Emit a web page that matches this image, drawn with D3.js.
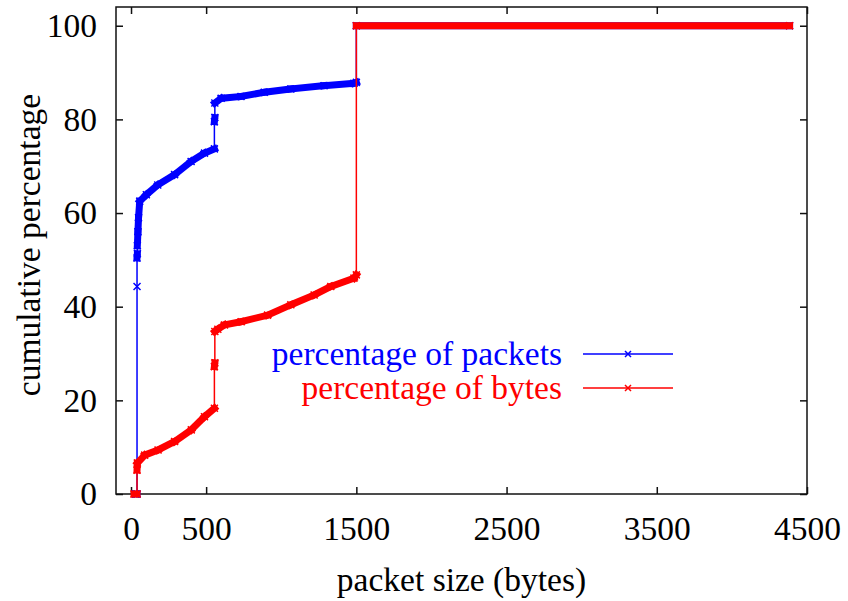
<!DOCTYPE html>
<html>
<head>
<meta charset="utf-8">
<script src="https://cdn.jsdelivr.net/npm/d3@7"></script>
<style>
    body { margin: 0; background: #fff; }
    text { font-family: "Liberation Serif", "DejaVu Serif", serif; }
</style>
</head>
<body>
<div id="chart"></div>
<script>
// Data
// packet sizes (bytes) and cumulative percentage of packets
var packetSizes = [30, 40, 40, 40, 42, 42, 46, 50, 58, 102, 178, 290, 400, 489, 555, 555, 558, 558, 600, 732, 887, 1064, 1285, 1484, 1500, 1500, 4384];
var packetPct = [0, 0, 44.3, 50.4, 51.3, 53, 56, 59, 62.5, 63.9, 66, 68.2, 71, 72.8, 73.7, 79.5, 80.4, 83.5, 84.5, 84.9, 85.8, 86.5, 87.2, 87.7, 87.9, 100, 100];

// packet sizes (bytes) and cumulative percentage of bytes
var byteSizes = [20, 40, 40, 42, 91, 180, 290, 401, 489, 555, 555, 558, 558, 578, 622, 733, 909, 1064, 1219, 1330, 1484, 1500, 1500, 4384];
var bytePct = [0, 0, 5.1, 6.6, 8.3, 9.4, 11.2, 13.7, 16.5, 18.3, 27.2, 28.0, 34.7, 35.2, 36.1, 36.8, 38.2, 40.4, 42.5, 44.3, 46.1, 46.8, 100, 100];

var xTicks = [0, 500, 1500, 2500, 3500, 4500];
var yTicks = [0, 20, 40, 60, 80, 100];

var seriesNames = ['percentage of packets', 'percentage of bytes'];
var seriesColors = ['#0000ff', '#ff0000'];

// SVG setup
var svgWidth = 848;
var svgHeight = 601;
var fontSize = '33.5px';

var margins = {
    top: 7,
    right: 41,
    bottom: 107,
    left: 116
};

var chartWidth = svgWidth - margins.left - margins.right;
var chartHeight = svgHeight - margins.top - margins.bottom;

var svg = d3.select('#chart')
    .append('svg')
    .attr('width', svgWidth)
    .attr('height', svgHeight);

var chartGroup = svg.append('g')
    .attr('transform', `translate(${margins.left}, ${margins.top})`);

// scales
var xScale = d3.scaleLinear()
    .domain([-100, 4500])
    .range([0, chartWidth]);

var yScale = d3.scaleLinear()
    .domain([0, 104])
    .range([chartHeight, 0]);

// axes, gnuplot style: ticks inside and mirrored on all four sides
var bottomAxis = d3.axisBottom(xScale).tickValues(xTicks).tickFormat(d3.format('d'))
    .tickSizeInner(-7).tickSizeOuter(0).tickPadding(22);
var topAxis = d3.axisTop(xScale).tickValues(xTicks).tickSizeInner(-7).tickSizeOuter(0).tickFormat('');
var leftAxis = d3.axisLeft(yScale).tickValues(yTicks).tickFormat(d3.format('d'))
    .tickSizeInner(-7).tickSizeOuter(0).tickPadding(19);
var rightAxis = d3.axisRight(yScale).tickValues(yTicks).tickSizeInner(-7).tickSizeOuter(0).tickFormat('');

function styleAxis(g) {
    g.select('.domain').remove();
    g.selectAll('line').attr('stroke', '#111').attr('stroke-width', 1.5);
    g.selectAll('text')
        .attr('fill', '#000')
        .style('font-size', fontSize)
        .style('font-family', '"Liberation Serif", "DejaVu Serif", serif');
}

chartGroup.append('g')
    .attr('transform', `translate(0, ${chartHeight})`)
    .call(bottomAxis)
    .call(styleAxis);

chartGroup.append('g')
    .call(topAxis)
    .call(styleAxis);

chartGroup.append('g')
    .call(leftAxis)
    .call(styleAxis);

chartGroup.append('g')
    .attr('transform', `translate(${chartWidth}, 0)`)
    .call(rightAxis)
    .call(styleAxis);

// frame
chartGroup.append('rect')
    .attr('x', 0)
    .attr('y', 0)
    .attr('width', chartWidth)
    .attr('height', chartHeight)
    .attr('fill', 'none')
    .attr('stroke', '#111')
    .attr('stroke-width', 1.5);

// axis titles
svg.append('text')
    .attr('x', margins.left + chartWidth / 2)
    .attr('y', 591)
    .attr('text-anchor', 'middle')
    .style('font-size', fontSize)
    .text('packet size (bytes)');

svg.append('text')
    .attr('transform', 'translate(40, 245) rotate(-90)')
    .attr('text-anchor', 'middle')
    .style('font-size', fontSize)
    .text('cumulative percentage');

// build point lists for each series
var series = [
    packetSizes.map((s, i) => ({ x: s, y: packetPct[i] })),
    byteSizes.map((s, i) => ({ x: s, y: bytePct[i] }))
];

var line = d3.line()
    .x(d => xScale(d.x))
    .y(d => yScale(d.y));

function drawX(g, cx, cy, r, color) {
    g.append('path')
        .attr('d', `M${cx - r},${cy - r}L${cx + r},${cy + r}M${cx - r},${cy + r}L${cx + r},${cy - r}`)
        .attr('stroke', color)
        .attr('stroke-width', 1.5)
        .attr('fill', 'none');
}

series.forEach((pts, k) => {
    var color = seriesColors[k];
    var g = chartGroup.append('g');

    // thin connecting line
    g.append('path')
        .datum(pts)
        .attr('d', line)
        .attr('fill', 'none')
        .attr('stroke', color)
        .attr('stroke-width', 1.5);

    // where points sit side by side, the crowded x markers merge into a thick band
    for (var i = 1; i < pts.length; i++) {
        if (pts[i].x > pts[i - 1].x) {
            g.append('line')
                .attr('x1', xScale(pts[i - 1].x))
                .attr('y1', yScale(pts[i - 1].y))
                .attr('x2', xScale(pts[i].x))
                .attr('y2', yScale(pts[i].y))
                .attr('stroke', color)
                .attr('stroke-width', 7)
                .attr('stroke-linecap', 'square');
        }
    }

    // markers
    pts.forEach(p => drawX(g, xScale(p.x), yScale(p.y), 3.5, color));
});

// legend
var legendY = [354, 388];
seriesNames.forEach((name, k) => {
    svg.append('text')
        .attr('x', 562)
        .attr('y', legendY[k] + 11)
        .attr('text-anchor', 'end')
        .attr('fill', seriesColors[k])
        .style('font-size', fontSize)
        .text(name);

    svg.append('line')
        .attr('x1', 583)
        .attr('x2', 673)
        .attr('y1', legendY[k])
        .attr('y2', legendY[k])
        .attr('stroke', seriesColors[k])
        .attr('stroke-width', 1.5);

    drawX(svg, 628, legendY[k], 3, seriesColors[k]);
});
</script>
</body>
</html>
